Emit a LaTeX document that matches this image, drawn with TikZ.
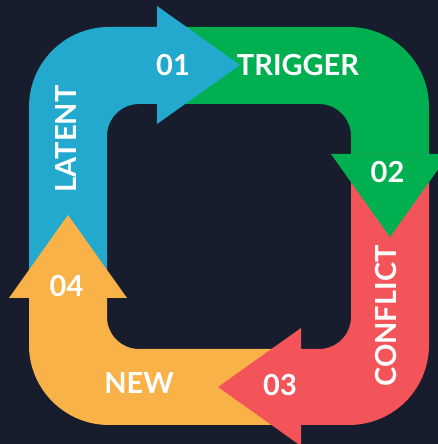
\documentclass[tikz,border=0pt]{standalone}
\usepackage{fontspec}
\setmainfont{Lato}
\definecolor{bgnavy}{HTML}{181D2E}
\definecolor{cblue}{HTML}{22A9CD}
\definecolor{cgreen}{HTML}{00AF50}
\definecolor{cred}{HTML}{F3545A}
\definecolor{cyellow}{HTML}{F9B247}
\tikzset{
  lbl/.style={text=white, inner sep=0pt, font=\bfseries\fontsize{29}{29}\selectfont},
}

\begin{document}
\begin{tikzpicture}[x=1pt, y=1pt]
\fill[bgnavy] (0,0) rectangle (438,444);
\clip (0,0) rectangle (438,444);

% bodies first
\fill[cblue] (29,146) -- (29,337) arc[start angle=180, end angle=90, radius=80] -- (157,417) -- (157,340)
   -- (139,340) arc[start angle=90, end angle=180, radius=32] -- (107,146) -- cycle;
\fill[cgreen] (157,417) -- (349,417) arc[start angle=90, end angle=0, radius=80] -- (429,290) -- (351,290)
   -- (351,308) arc[start angle=0, end angle=90, radius=32] -- (157,340) -- cycle;
\fill[cred] (429,290) -- (429,99) arc[start angle=0, end angle=-90, radius=80] -- (301,19) -- (301,95)
   -- (319,95) arc[start angle=-90, end angle=0, radius=32] -- (351,290) -- cycle;
\fill[cyellow] (301,19) -- (109,19) arc[start angle=270, end angle=180, radius=80] -- (29,146) -- (107,146)
   -- (107,127) arc[start angle=180, end angle=270, radius=32] -- (301,95) -- cycle;

% heads on top
\fill[cblue] (157,438) -- (240,379) -- (157,320) -- cycle;
\fill[cgreen] (331,290) -- (390,207) -- (449,290) -- cycle;
\fill[cred] (301,116) -- (218,57) -- (301,-2) -- cycle;
\fill[cyellow] (9,146) -- (68,229) -- (127,146) -- cycle;

% labels
\node[lbl] (n01) at (173,379) {01};
\node[lbl] (trigger) at (298,379) {TRIGGER};
\node[lbl] (n02) at (387.5,272) {02};
\node[lbl, rotate=90] (conflict) at (386.5,128) {CONFLICT};
\node[lbl] (n03) at (280,59) {03};
\node[lbl] (new) at (139,60.5) {NEW};
\node[lbl] (n04) at (66.5,158) {04};
\node[lbl, rotate=90] (latent) at (66.5,305) {LATENT};

\end{tikzpicture}
\end{document}
